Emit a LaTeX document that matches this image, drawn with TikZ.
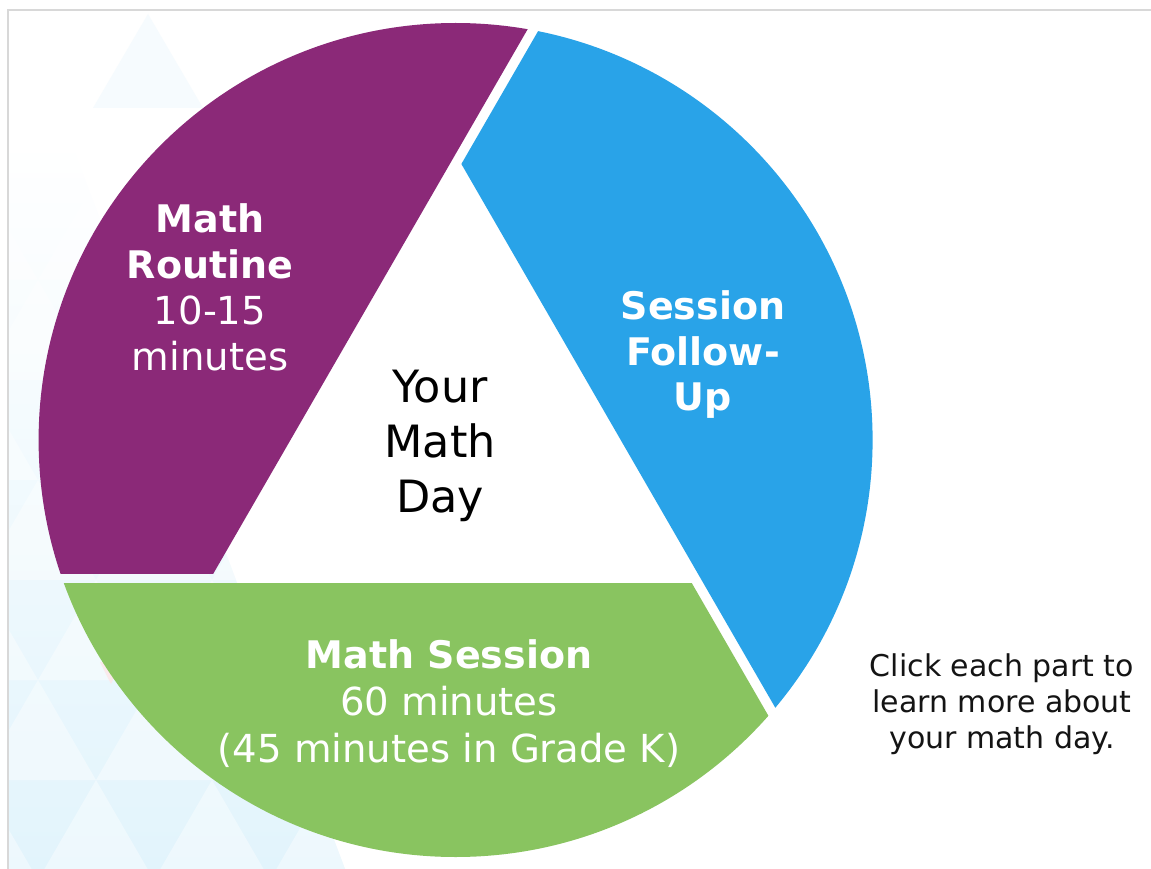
\documentclass[tikz,border=0pt]{standalone}
\usepackage{fontspec}
\setmainfont{DejaVu Sans}
\begin{document}
\begin{tikzpicture}[x=1pt,y=1pt,
  wlab/.style={text=white, inner sep=0pt, anchor=base, font=\fontsize{38.6}{46}\selectfont},
  wbold/.style={text=white, inner sep=0pt, anchor=base, font=\fontsize{38}{46}\selectfont\bfseries},
  centrelab/.style={text=black, inner sep=0pt, anchor=base, font=\fontsize{44.5}{55}\selectfont},
  notelab/.style={text={rgb,255:red,20;green,20;blue,20}, inner sep=0pt, anchor=base, font=\fontsize{30}{36}\selectfont}]
\definecolor{routine}{RGB}{139,41,120}
\definecolor{followup}{RGB}{41,163,232}
\definecolor{session}{RGB}{137,196,96}
\definecolor{framegrey}{RGB}{216,216,216}
\definecolor{bgA}{RGB}{226,244,252}
\definecolor{bgB}{RGB}{240,249,253}
\definecolor{bgC}{RGB}{246,251,254}
\definecolor{bgPink}{RGB}{250,234,236}

% page
\useasboundingbox (0,0) rectangle (1151,-869);
\fill[white] (0,0) rectangle (1151,-869);

% faint triangle pattern behind the left side
\fill[bgC] (148,-14) -- (93,-108) -- (203,-108) -- cycle;
\begin{scope}
  \clip (8,-140) -- (70,-140) -- (345,-869) -- (8,-869) -- cycle;
  \shade[top color=white, middle color=bgB, bottom color=bgA] (8,-140) rectangle (345,-869);
  \foreach \j in {0,...,7} {
    \foreach \i in {-1,...,3} {
      \pgfmathsetmacro\xo{\i*116 + mod(\j,2)*58 - 20}
      \pgfmathsetmacro\ya{-80-\j*100}
      \pgfmathsetmacro\yb{-80-(\j+1)*100}
      \fill[white, opacity=0.4] (\xo,\yb) -- (\xo+116,\yb) -- (\xo+58,\ya) -- cycle;
    }
  }
  \fill[bgPink] (100,-662) -- (122,-662) -- (111,-684) -- cycle;
\end{scope}

% frame lines
\draw[framegrey, line width=2] (8,-869) -- (8,-10) -- (1151,-10);

% the three segments of the day wheel: circle of radius 417,
% cut by the extended sides of a central triangle (inradius 143, gaps 10)
\coordinate (O) at (455.6,-440);
\begin{scope}[shift={(O)}]
  \begin{scope}
    \clip[rotate=150] (143,-700) -- (900,-700) -- (900,700) -- (143,700) -- cycle;
    \clip[rotate=270] (-900,-700) -- (133,-700) -- (133,700) -- (-900,700) -- cycle;
    \fill[routine] (0,0) circle[radius=417];
  \end{scope}
  \begin{scope}
    \clip[rotate=30] (143,-700) -- (900,-700) -- (900,700) -- (143,700) -- cycle;
    \clip[rotate=150] (-900,-700) -- (133,-700) -- (133,700) -- (-900,700) -- cycle;
    \fill[followup] (0,0) circle[radius=417];
  \end{scope}
  \begin{scope}
    \clip[rotate=270] (143,-700) -- (900,-700) -- (900,700) -- (143,700) -- cycle;
    \clip[rotate=30] (-900,-700) -- (133,-700) -- (133,700) -- (-900,700) -- cycle;
    \fill[session] (0,0) circle[radius=417];
  \end{scope}
\end{scope}

% labels
\node[wbold] (routineA) at (210,-233) {Math};
\node[wbold] (routineB) at (210,-278.5) {Routine};
\node[wlab]  (routineC) at (210,-324) {10-15};
\node[wlab]  (routineD) at (210,-370) {minutes};

\node[wbold] (followA) at (703,-319) {Session};
\node[wbold] (followB) at (703,-365) {Follow-};
\node[wbold] (followC) at (703,-410) {Up};

\node[wbold] (sessionA) at (449,-668) {Math Session};
\node[wlab]  (sessionB) at (449,-715) {60 minutes};
\node[wlab]  (sessionC) at (449,-762) {(45 minutes in Grade K)};

\node[centrelab] (dayA) at (440,-402) {Your};
\node[centrelab] (dayB) at (440,-457) {Math};
\node[centrelab] (dayC) at (440,-512) {Day};

\node[notelab] (noteA) at (1002,-676) {Click each part to};
\node[notelab] (noteB) at (1002,-712) {learn more about};
\node[notelab] (noteC) at (1002,-748) {your math day.};
\end{tikzpicture}
\end{document}
